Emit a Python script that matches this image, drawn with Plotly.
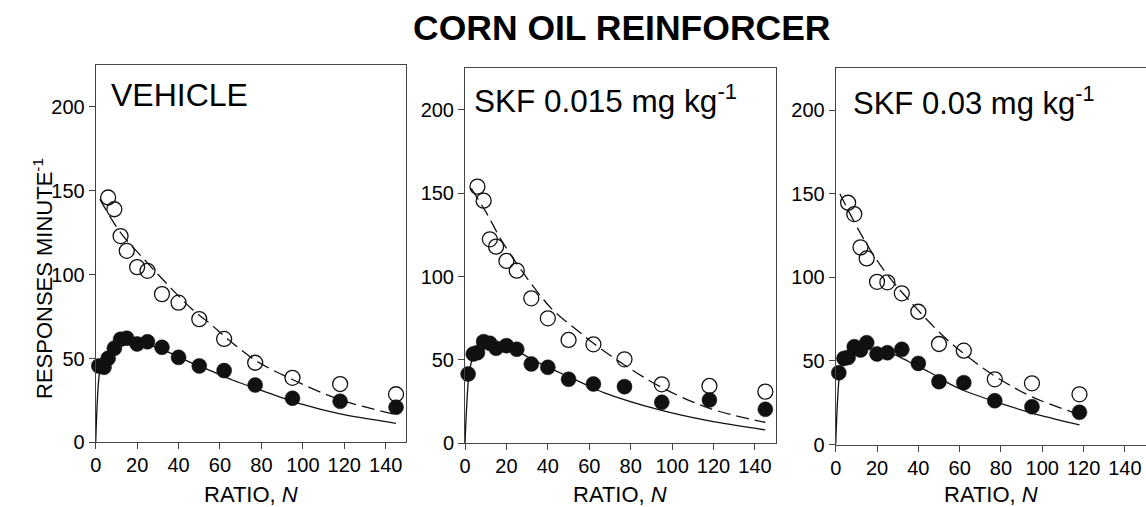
import plotly.graph_objects as go

# ---------------- data ----------------
N_CLOSED = [1.5, 4, 6, 9, 12, 15, 20, 25, 32, 40, 50, 62, 77, 95, 118, 145]
N_OPEN = [6, 9, 12, 15, 20, 25, 32, 40, 50, 62, 77, 95, 118, 145]

veh_closed = [45.6, 44.8, 50.1, 56.1, 61.5, 62.1, 58.7, 60.0, 56.7, 50.7, 45.6, 42.8, 34.2, 26.3, 24.5, 21.0]
veh_open = [146.0, 139.0, 123.0, 114.2, 104.5, 102.3, 88.4, 83.3, 73.5, 61.7, 47.5, 38.5, 34.8, 28.7]
skf015_closed = [41.6, 53.6, 54.4, 61.0, 60.0, 57.0, 58.6, 56.4, 47.6, 45.6, 38.4, 35.6, 34.0, 24.6, 26.0, 20.4]
skf015_open = [154.0, 145.6, 122.4, 118.0, 109.4, 103.6, 87.0, 75.0, 62.0, 59.4, 50.4, 35.4, 34.4, 31.0]
skf03_closed = [42.9, 51.5, 52.1, 58.5, 56.5, 60.9, 54.1, 54.9, 56.9, 48.5, 37.6, 37.0, 26.2, 22.6, 19.3]
skf03_open = [144.6, 137.8, 117.9, 111.3, 97.3, 97.0, 90.4, 79.4, 60.1, 56.1, 39.0, 36.6, 30.0]

# fitted curves
veh_solid_x = [0, 2, 4, 7, 10, 15, 20, 25, 32, 40, 47, 56, 66, 83, 99, 118, 145]
veh_solid_y = [0, 43, 50, 56, 59, 60.5, 60, 58.5, 55.5, 51, 47, 42.5, 37.2, 29.7, 22.9, 17, 11.4]
veh_dash_x = [2, 12, 22, 34, 46, 56, 62, 77, 95, 118, 145]
veh_dash_y = [145, 125, 111, 95, 80, 70, 63.5, 49, 37.5, 25.5, 16.5]

skf015_solid_x = [0, 2, 4, 7, 10, 15, 20, 25, 32, 42, 56.5, 67, 94, 118, 145]
skf015_solid_y = [0, 42, 52, 57, 59, 59, 57.5, 55.5, 50.5, 44.5, 36.3, 30.4, 20, 13.4, 8]
skf015_dash_x = [3, 10, 18, 30, 42, 54, 62, 77, 95, 118, 145]
skf015_dash_y = [153, 139, 121, 99, 80.5, 68, 60, 47, 33.5, 21, 12.5]

skf03_solid_x = [0, 2, 4, 7, 10, 15, 20, 25, 29, 35, 45, 54.7, 62, 77.6, 95, 118]
skf03_solid_y = [0, 43, 51, 55.5, 57, 57.5, 56.5, 55, 53.5, 49.8, 43.5, 36.6, 32.3, 25.5, 18.8, 11.7]
skf03_dash_x = [2, 11, 19, 26, 35, 51.5, 63.4, 77.6, 95, 118]
skf03_dash_y = [150, 128.5, 112, 100, 87, 65.5, 53, 40.5, 28.5, 18]

panel_titles = ["VEHICLE", "SKF 0.015 mg kg<sup>-1</sup>", "SKF 0.03 mg kg<sup>-1</sup>"]
main_title = "CORN OIL REINFORCER"
x_title = "RATIO, <i>N</i>"
y_title = "RESPONSES MINUTE<sup>-1</sup>"
x_ticks = [0, 20, 40, 60, 80, 100, 120, 140]
y_ticks = [0, 50, 100, 150, 200]

panels = [
    dict(closed=veh_closed, open=veh_open, sx=veh_solid_x, sy=veh_solid_y, dx=veh_dash_x, dy=veh_dash_y),
    dict(closed=skf015_closed, open=skf015_open, sx=skf015_solid_x, sy=skf015_solid_y, dx=skf015_dash_x, dy=skf015_dash_y),
    dict(closed=skf03_closed, open=skf03_open, sx=skf03_solid_x, sy=skf03_solid_y, dx=skf03_dash_x, dy=skf03_dash_y),
]

# ---------------- layout geometry (pixels) ----------------
W, H = 1146, 507
FONT = "Liberation Sans, Arial, sans-serif"
xdom_px = [(95.7, 406.4), (465.0, 775.7), (835.7, 1146.0)]
ydom_px = [(65.0, 442.4), (68.3, 443.3), (68.3, 444.5)]
xranges = [[0, 150], [0, 150], [0, 150.2]]
label_pos = [(109, 95), (472, 99), (851, 101)]
label_size = [32, 31.5, 31]

fig = go.Figure()
layout = dict(
    template="none",
    width=W, height=H, margin=dict(l=0, r=0, t=0, b=0, pad=0, autoexpand=False),
    paper_bgcolor="white", plot_bgcolor="white", showlegend=False,
    font=dict(family=FONT, color="black"),
)
annotations = []

for i, p in enumerate(panels):
    k = "" if i == 0 else str(i + 1)
    xa, ya = "x" + k, "y" + k
    nc = len(p["closed"])
    no = len(p["open"])
    fig.add_trace(go.Scatter(x=p["dx"], y=p["dy"], mode="lines", xaxis=xa, yaxis=ya, hoverinfo="skip",
                             line=dict(color="#111", width=1.3, dash="13px,6px", shape="spline", smoothing=1)))
    fig.add_trace(go.Scatter(x=p["sx"], y=p["sy"], mode="lines", xaxis=xa, yaxis=ya, hoverinfo="skip",
                             line=dict(color="#111", width=1.3, shape="spline", smoothing=0.8)))
    fig.add_trace(go.Scatter(x=N_OPEN[:no], y=p["open"], mode="markers", xaxis=xa, yaxis=ya,
                             cliponaxis=False,
                             marker=dict(symbol="circle-open", size=15, color="#111", line=dict(width=1.3, color="#111"))))
    fig.add_trace(go.Scatter(x=N_CLOSED[:nc], y=p["closed"], mode="markers", xaxis=xa, yaxis=ya,
                             cliponaxis=False,
                             marker=dict(symbol="circle", size=15, color="#111", line=dict(width=0.5, color="#111"))))

    x0, x1 = xdom_px[i]
    yt, yb = ydom_px[i]
    axcommon = dict(showgrid=False, zeroline=False, showline=True, linecolor="#444", linewidth=1,
                    mirror=True, ticks="outside", ticklen=6, tickwidth=1, tickcolor="#444",
                    automargin=False,
                    tickfont=dict(size=20, family=FONT, color="black"))
    layout["xaxis" + k] = dict(domain=[x0 / W, min(1.0, x1 / W)], range=xranges[i], tickvals=x_ticks,
                               anchor=ya, ticklabelstandoff=-1, **axcommon)
    layout["yaxis" + k] = dict(domain=[1 - yb / H, 1 - yt / H], range=[0, 225], tickvals=y_ticks,
                               anchor=xa, **axcommon)

    lx, ly = label_pos[i]
    annotations.append(dict(text=panel_titles[i], x=lx / W, y=1 - ly / H, xref="paper", yref="paper",
                            xanchor="left", yanchor="middle", showarrow=False,
                            font=dict(size=label_size[i], family=FONT, color="black")))
    annotations.append(dict(text=x_title, x=((x0 + x1) / 2) / W, y=1 - 494 / H, xref="paper", yref="paper",
                            xanchor="center", yanchor="middle", showarrow=False,
                            font=dict(size=22, family=FONT, color="black")))

annotations.append(dict(text="<b>" + main_title + "</b>", x=621 / W, y=1 - 28 / H, xref="paper", yref="paper",
                        xanchor="center", yanchor="middle", showarrow=False,
                        font=dict(size=35.5, family=FONT, color="black")))
annotations.append(dict(text=y_title, x=43 / W, y=1 - 279 / H, xref="paper", yref="paper", textangle=-90,
                        xanchor="center", yanchor="middle", showarrow=False,
                        font=dict(size=22, family=FONT, color="black")))

layout["annotations"] = annotations
fig.update_layout(**layout)
fig.write_html("out.html", config={"displayModeBar": False},
               post_script="document.body.style.margin='0';document.body.style.overflow='hidden';")

with open("out.html", "r", encoding="utf-8") as f:
    html = f.read()
html = html.replace("<body>", '<body style="margin:0;padding:0;overflow:hidden">', 1)
with open("out.html", "w", encoding="utf-8") as f:
    f.write(html)
